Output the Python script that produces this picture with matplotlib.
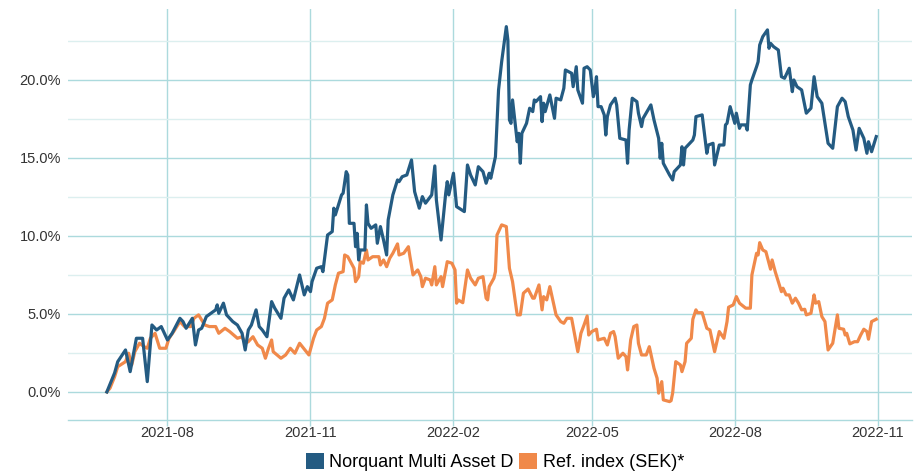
import matplotlib
matplotlib.use("Agg")
import numpy as np
import pandas as pd
import matplotlib.pyplot as plt
import matplotlib.dates as mdates
from matplotlib.patches import Patch
from matplotlib.ticker import FuncFormatter, MultipleLocator

plt.rcParams['font.family'] = ['Liberation Sans', 'DejaVu Sans']

# Norquant Multi Asset D, cumulative return in %
fund_dates = [
    "2021-06-23", "2021-06-28", "2021-06-30", "2021-07-05", "2021-07-08", "2021-07-12", "2021-07-16",
    "2021-07-19", "2021-07-22", "2021-07-25", "2021-07-28", "2021-08-01", "2021-08-04", "2021-08-09",
    "2021-08-11", "2021-08-13", "2021-08-17", "2021-08-19", "2021-08-21", "2021-08-23", "2021-08-26",
    "2021-09-01", "2021-09-02", "2021-09-03", "2021-09-06", "2021-09-08", "2021-09-12", "2021-09-15",
    "2021-09-18", "2021-09-20", "2021-09-22", "2021-09-24", "2021-09-27", "2021-09-29", "2021-10-01",
    "2021-10-04", "2021-10-07", "2021-10-09", "2021-10-13", "2021-10-15", "2021-10-18", "2021-10-21",
    "2021-10-25", "2021-10-28", "2021-10-30", "2021-11-01", "2021-11-02", "2021-11-05", "2021-11-08",
    "2021-11-09", "2021-11-12", "2021-11-15", "2021-11-16", "2021-11-17", "2021-11-21", "2021-11-22",
    "2021-11-24", "2021-11-25", "2021-11-26", "2021-11-29", "2021-11-30", "2021-12-01", "2021-12-02",
    "2021-12-03", "2021-12-06", "2021-12-07", "2021-12-08", "2021-12-10", "2021-12-13", "2021-12-14",
    "2021-12-16", "2021-12-18", "2021-12-20", "2021-12-21", "2021-12-24", "2021-12-27", "2021-12-28",
    "2021-12-30", "2022-01-02", "2022-01-05", "2022-01-07", "2022-01-10", "2022-01-12", "2022-01-14",
    "2022-01-18", "2022-01-20", "2022-01-21", "2022-01-24", "2022-01-27", "2022-01-28", "2022-01-29",
    "2022-02-01", "2022-02-03", "2022-02-08", "2022-02-10", "2022-02-12", "2022-02-15", "2022-02-17",
    "2022-02-20", "2022-02-22", "2022-02-24", "2022-02-25", "2022-02-28", "2022-03-02", "2022-03-04",
    "2022-03-07", "2022-03-08", "2022-03-09", "2022-03-10", "2022-03-11", "2022-03-14", "2022-03-15",
    "2022-03-16", "2022-03-17", "2022-03-20", "2022-03-22", "2022-03-24", "2022-03-25", "2022-03-26",
    "2022-03-28", "2022-03-29", "2022-03-30", "2022-03-31", "2022-04-01", "2022-04-04", "2022-04-07",
    "2022-04-08", "2022-04-11", "2022-04-13", "2022-04-14", "2022-04-18", "2022-04-19", "2022-04-21",
    "2022-04-22", "2022-04-25", "2022-04-26", "2022-04-28", "2022-04-30", "2022-05-02", "2022-05-03",
    "2022-05-04", "2022-05-05", "2022-05-07", "2022-05-09", "2022-05-10", "2022-05-11", "2022-05-13",
    "2022-05-16", "2022-05-17", "2022-05-19", "2022-05-23", "2022-05-24", "2022-05-25", "2022-05-27",
    "2022-05-30", "2022-05-31", "2022-06-02", "2022-06-03", "2022-06-08", "2022-06-10", "2022-06-13",
    "2022-06-14", "2022-06-15", "2022-06-16", "2022-06-20", "2022-06-22", "2022-06-23", "2022-06-27",
    "2022-06-28", "2022-06-29", "2022-06-30", "2022-07-05", "2022-07-06", "2022-07-07", "2022-07-11",
    "2022-07-14", "2022-07-15", "2022-07-18", "2022-07-19", "2022-07-20", "2022-07-22", "2022-07-25",
    "2022-07-26", "2022-07-27", "2022-07-29", "2022-08-01", "2022-08-02", "2022-08-04", "2022-08-05",
    "2022-08-08", "2022-08-09", "2022-08-11", "2022-08-12", "2022-08-15", "2022-08-16", "2022-08-17",
    "2022-08-19", "2022-08-22", "2022-08-23", "2022-08-24", "2022-08-26", "2022-08-29", "2022-08-31",
    "2022-09-02", "2022-09-05", "2022-09-07", "2022-09-08", "2022-09-10", "2022-09-13", "2022-09-16",
    "2022-09-19", "2022-09-21", "2022-09-23", "2022-09-26", "2022-09-27", "2022-09-30", "2022-10-03",
    "2022-10-06", "2022-10-09", "2022-10-11", "2022-10-13", "2022-10-16", "2022-10-18", "2022-10-20",
    "2022-10-23", "2022-10-25", "2022-10-26", "2022-10-28", "2022-10-31",
]
fund_values = [
    0.00, 1.22, 1.94, 2.69, 1.30, 3.44, 3.44,
    0.66, 4.29, 3.97, 4.19, 3.33, 3.76, 4.72,
    4.51, 4.08, 4.72, 3.01, 3.97, 4.08, 4.83,
    5.26, 5.58, 5.04, 5.69, 4.94, 4.51, 4.29,
    3.76, 2.69, 3.97, 4.29, 5.26, 4.19, 3.97,
    3.54, 5.79, 5.37, 4.72, 6.01, 6.54, 5.90,
    7.50, 6.22, 6.75, 6.43, 7.07, 7.93, 8.03,
    7.71, 10.06, 10.28, 11.78, 11.35, 12.63, 12.74,
    14.12, 13.91, 10.81, 10.81, 9.31, 10.17, 8.46,
    9.10, 9.10, 11.99, 10.81, 10.49, 10.71, 9.53,
    10.60, 9.74, 8.78, 11.03, 12.63, 13.59, 13.48,
    13.80, 13.91, 14.87, 12.84, 11.78, 12.52, 12.10,
    12.63, 14.49, 12.31, 9.74, 12.74, 13.48, 12.63,
    14.02, 11.88, 11.56, 14.55, 13.91, 13.27, 14.44,
    14.12, 13.38, 14.02, 13.70, 15.08, 19.36, 21.17,
    23.42, 22.56, 17.44, 17.22, 18.72, 16.04, 16.58,
    14.66, 16.58, 17.22, 18.19, 17.97, 18.72, 18.61,
    18.83, 18.93, 17.33, 18.51, 17.97, 19.04, 17.54,
    18.83, 18.72, 19.47, 20.64, 20.43, 19.57, 20.85,
    19.36, 18.51, 20.75, 20.85, 20.64, 18.93, 19.36,
    20.21, 18.29, 18.29, 17.76, 16.47, 17.65, 18.40,
    18.83, 18.40, 16.26, 16.15, 14.66, 16.79, 18.83,
    18.61, 17.87, 17.01, 17.54, 18.40, 17.44, 16.26,
    14.98, 15.94, 14.66, 13.91, 13.59, 14.12, 14.55,
    15.72, 14.55, 15.62, 16.15, 16.47, 17.65, 17.76,
    15.30, 15.83, 15.94, 14.55, 14.98, 15.83, 15.83,
    17.12, 17.22, 18.29, 17.22, 17.87, 16.90, 17.12,
    17.12, 16.79, 19.68, 20.00, 20.85, 21.17, 22.24,
    22.78, 23.21, 22.03, 22.35, 22.13, 21.92, 20.21,
    20.11, 20.75, 19.25, 20.00, 19.57, 19.36, 17.87,
    18.19, 20.21, 18.93, 18.51, 17.87, 15.94, 15.62,
    18.29, 18.83, 18.61, 17.65, 16.79, 15.51, 16.90,
    16.26, 15.30, 16.04, 15.40, 16.37,
]

# Ref. index (SEK)*, cumulative return in %
ref_dates = [
    "2021-06-23", "2021-06-25", "2021-06-28", "2021-06-30", "2021-07-05", "2021-07-07", "2021-07-09",
    "2021-07-11", "2021-07-14", "2021-07-17", "2021-07-19", "2021-07-21", "2021-07-24", "2021-07-27",
    "2021-07-31", "2021-08-02", "2021-08-05", "2021-08-09", "2021-08-12", "2021-08-16", "2021-08-18",
    "2021-08-21", "2021-08-23", "2021-08-25", "2021-08-28", "2021-09-01", "2021-09-03", "2021-09-07",
    "2021-09-10", "2021-09-15", "2021-09-18", "2021-09-20", "2021-09-22", "2021-09-25", "2021-09-28",
    "2021-10-01", "2021-10-03", "2021-10-05", "2021-10-07", "2021-10-08", "2021-10-13", "2021-10-16",
    "2021-10-19", "2021-10-22", "2021-10-25", "2021-10-31", "2021-11-03", "2021-11-05", "2021-11-08",
    "2021-11-10", "2021-11-12", "2021-11-15", "2021-11-17", "2021-11-19", "2021-11-22", "2021-11-23",
    "2021-11-25", "2021-11-29", "2021-11-30", "2021-12-02", "2021-12-03", "2021-12-05", "2021-12-07",
    "2021-12-08", "2021-12-11", "2021-12-15", "2021-12-16", "2021-12-18", "2021-12-20", "2021-12-22",
    "2021-12-24", "2021-12-27", "2021-12-28", "2021-12-31", "2022-01-03", "2022-01-04", "2022-01-06",
    "2022-01-09", "2022-01-11", "2022-01-12", "2022-01-14", "2022-01-17", "2022-01-18", "2022-01-20",
    "2022-01-21", "2022-01-24", "2022-01-25", "2022-01-28", "2022-01-31", "2022-02-02", "2022-02-03",
    "2022-02-04", "2022-02-07", "2022-02-10", "2022-02-12", "2022-02-15", "2022-02-17", "2022-02-20",
    "2022-02-22", "2022-02-23", "2022-02-24", "2022-02-27", "2022-02-28", "2022-03-01", "2022-03-04",
    "2022-03-07", "2022-03-09", "2022-03-11", "2022-03-14", "2022-03-16", "2022-03-18", "2022-03-21",
    "2022-03-24", "2022-03-25", "2022-03-28", "2022-03-30", "2022-03-31", "2022-04-02", "2022-04-04",
    "2022-04-08", "2022-04-11", "2022-04-13", "2022-04-15", "2022-04-18", "2022-04-20", "2022-04-22",
    "2022-04-24", "2022-04-26", "2022-04-28", "2022-04-29", "2022-05-01", "2022-05-04", "2022-05-05",
    "2022-05-09", "2022-05-11", "2022-05-13", "2022-05-15", "2022-05-16", "2022-05-18", "2022-05-21",
    "2022-05-23", "2022-05-24", "2022-05-26", "2022-05-28", "2022-05-30", "2022-05-31", "2022-06-02",
    "2022-06-05", "2022-06-07", "2022-06-10", "2022-06-12", "2022-06-13", "2022-06-15", "2022-06-16",
    "2022-06-20", "2022-06-21", "2022-06-22", "2022-06-24", "2022-06-27", "2022-06-28", "2022-06-30",
    "2022-07-01", "2022-07-04", "2022-07-05", "2022-07-07", "2022-07-08", "2022-07-11", "2022-07-14",
    "2022-07-16", "2022-07-19", "2022-07-22", "2022-07-25", "2022-07-27", "2022-07-28", "2022-07-31",
    "2022-08-02", "2022-08-04", "2022-08-08", "2022-08-11", "2022-08-12", "2022-08-15", "2022-08-16",
    "2022-08-17", "2022-08-19", "2022-08-21", "2022-08-24", "2022-08-25", "2022-08-27", "2022-08-29",
    "2022-08-31", "2022-09-01", "2022-09-03", "2022-09-05", "2022-09-07", "2022-09-09", "2022-09-11",
    "2022-09-13", "2022-09-15", "2022-09-16", "2022-09-19", "2022-09-21", "2022-09-22", "2022-09-24",
    "2022-09-26", "2022-09-28", "2022-09-30", "2022-10-03", "2022-10-06", "2022-10-07", "2022-10-10",
    "2022-10-11", "2022-10-12", "2022-10-14", "2022-10-17", "2022-10-19", "2022-10-21", "2022-10-23",
    "2022-10-25", "2022-10-26", "2022-10-28", "2022-10-31",
]
ref_values = [
    0.00, 0.24, 0.98, 1.62, 1.94, 2.48, 1.73,
    2.58, 3.12, 2.90, 2.80, 3.44, 3.76, 2.80,
    2.80, 3.44, 3.87, 4.51, 4.19, 4.19, 4.72,
    4.94, 4.62, 4.29, 4.19, 4.19, 3.76, 4.08,
    3.87, 3.44, 3.54, 3.12, 3.22, 3.54, 3.01,
    2.80, 2.16, 2.80, 3.33, 2.58, 2.16, 2.37,
    2.80, 2.48, 3.12, 2.37, 3.44, 3.97, 4.19,
    4.72, 5.69, 5.90, 6.86, 7.61, 7.71, 8.78,
    8.67, 7.93, 7.07, 7.39, 8.35, 8.25, 9.10,
    8.46, 8.67, 8.67, 8.14, 8.46, 8.03, 8.57,
    8.89, 9.49, 8.78, 8.89, 9.31, 8.67, 7.50,
    7.82, 7.39, 6.75, 7.29, 7.18, 6.86, 8.03,
    6.86, 7.39, 6.75, 8.35, 8.25, 7.82, 5.69,
    5.90, 5.72, 7.82, 7.29, 6.86, 7.29, 7.39,
    6.01, 5.90, 6.75, 7.29, 7.71, 10.06, 10.71,
    10.60, 7.93, 7.07, 4.94, 4.94, 6.33, 6.60,
    6.01, 6.01, 6.86, 5.26, 6.11, 5.90, 6.75,
    4.94, 4.51, 4.40, 4.72, 4.72, 3.65, 2.58,
    3.76, 4.29, 4.87, 3.65, 3.87, 4.02, 3.33,
    3.44, 3.01, 3.76, 3.87, 3.54, 2.16, 2.48,
    2.26, 1.41, 3.33, 4.19, 4.29, 3.12, 2.37,
    2.37, 2.90, 1.52, 0.88, -0.08, 0.66, -0.51,
    -0.62, -0.56, -0.08, 1.94, 1.73, 1.30, 1.94,
    3.12, 3.44, 4.66, 5.26, 5.08, 5.08, 4.08,
    3.97, 2.58, 3.87, 3.44, 4.51, 5.43, 5.58,
    6.11, 5.69, 5.37, 5.37, 7.50, 8.89, 8.78,
    9.57, 9.10, 8.99, 7.87, 8.46, 7.71, 7.07,
    6.43, 6.65, 6.22, 6.22, 5.69, 6.01, 5.69,
    5.26, 5.30, 4.94, 5.04, 6.22, 5.69, 5.79,
    4.83, 4.51, 2.69, 3.12, 4.94, 4.08, 4.02,
    3.65, 3.76, 3.08, 3.22, 3.22, 3.65, 4.02,
    3.87, 3.38, 4.51, 4.66,
]

series_names = ["Norquant Multi Asset D", "Ref. index (SEK)*"]
series_colors = ["#245b82", "#f0894a"]

fund = pd.Series(fund_values, index=pd.to_datetime(fund_dates))
ref = pd.Series(ref_values, index=pd.to_datetime(ref_dates))

fig = plt.figure(figsize=(9.17, 4.73), dpi=100)
ax = fig.add_axes([68 / 917, 53 / 473, 844 / 917, 411 / 473])

ax.plot(ref.index, ref.values, color=series_colors[1], lw=2.3, solid_joinstyle='round', zorder=3)
ax.plot(fund.index, fund.values, color=series_colors[0], lw=2.3, solid_joinstyle='round', zorder=4)

ax.set_xlim(pd.Timestamp("2021-05-29"), pd.Timestamp("2022-11-23"))
ax.set_ylim(-1.8, 24.55)

ax.yaxis.set_major_locator(MultipleLocator(5))
ax.yaxis.set_minor_locator(MultipleLocator(2.5))
ax.yaxis.set_major_formatter(FuncFormatter(lambda v, p: f"{v:.1f}%"))
ax.xaxis.set_major_locator(mdates.MonthLocator(bymonth=[2, 5, 8, 11]))
ax.xaxis.set_major_formatter(mdates.DateFormatter("%Y-%m"))

grid_col = "#acdadd"
ax.grid(True, which='major', axis='both', color=grid_col, lw=1.0, zorder=0)
ax.grid(True, which='minor', axis='y', color="#dcefef", lw=1.0, zorder=0)
ax.set_axisbelow(True)

for s in ["top", "right", "left"]:
    ax.spines[s].set_visible(False)
ax.spines["bottom"].set_color(grid_col)
ax.spines["bottom"].set_linewidth(1.0)

ax.tick_params(axis='y', which='both', length=0, pad=5, labelsize=10.5, labelcolor="#333333")
ax.tick_params(axis='x', which='major', length=4, width=1.0, color=grid_col, pad=0,
               labelsize=10.5, labelcolor="#333333")

handles = [Patch(facecolor=c, edgecolor='none') for c in series_colors]
ax.legend(handles, series_names, loc='center', bbox_to_anchor=(0.506, -0.102),
          ncol=2, frameon=False, fontsize=13, handlelength=1.0, handleheight=1.0,
          handletextpad=0.3, columnspacing=0.3, borderaxespad=0, borderpad=0)

fig.savefig("out.png", dpi=100)
